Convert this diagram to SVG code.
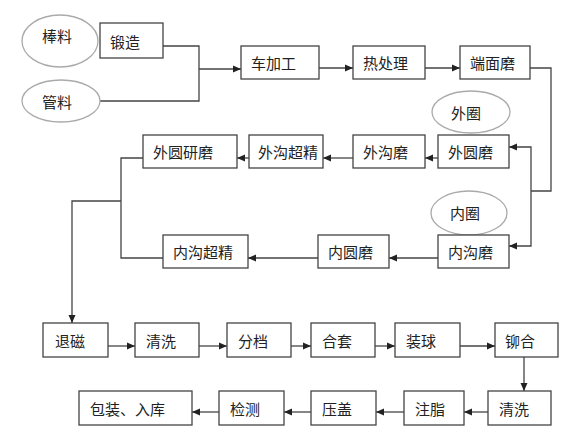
<svg xmlns="http://www.w3.org/2000/svg" width="573" height="437" viewBox="0 0 573 437">
<style>
.box{fill:#fff;stroke:#444;stroke-width:1.3}
.ell{fill:#fff;stroke:#aaa;stroke-width:1.3}
.t{font-family:"Noto Sans CJK SC","Noto Sans CJK JP",sans-serif;font-size:15px;fill:#222;dominant-baseline:central}
.tc{text-anchor:middle}
.ln{fill:none;stroke:#444;stroke-width:1.3}
</style>
<defs>
<marker id="ah" markerUnits="userSpaceOnUse" markerWidth="9" markerHeight="8" refX="8" refY="4" orient="auto">
<path d="M0,0.5 L8,4 L0,7.5 Z" fill="#222"/>
</marker>
</defs>
<rect width="573" height="437" fill="#fff"/>
<g id="connectors">
<polyline class="ln" points="163,46 199,46 199,101 100,101"/>
<line class="ln" x1="199" y1="69" x2="241" y2="69" marker-end="url(#ah)"/>
<line class="ln" x1="319" y1="68" x2="353" y2="68" marker-end="url(#ah)"/>
<line class="ln" x1="425" y1="68" x2="460" y2="68" marker-end="url(#ah)"/>
<polyline class="ln" points="530,68 551,68 551,191 531,191"/>
<polyline class="ln" points="531,191 531,147 509,147" marker-end="url(#ah)"/>
<polyline class="ln" points="531,191 531,246 509,246" marker-end="url(#ah)"/>
<line class="ln" x1="438" y1="158" x2="425" y2="158" marker-end="url(#ah)"/>
<line class="ln" x1="353" y1="158" x2="323" y2="158" marker-end="url(#ah)"/>
<line class="ln" x1="249" y1="158" x2="237" y2="158" marker-end="url(#ah)"/>
<line class="ln" x1="438" y1="258" x2="389" y2="258" marker-end="url(#ah)"/>
<line class="ln" x1="318" y1="258" x2="248" y2="258" marker-end="url(#ah)"/>
<polyline class="ln" points="143,158 121,158 121,258 163,258"/>
<polyline class="ln" points="121,201 72,201 72,323" marker-end="url(#ah)"/>
<line class="ln" x1="108" y1="346" x2="135" y2="346" marker-end="url(#ah)"/>
<line class="ln" x1="199" y1="346" x2="227" y2="346" marker-end="url(#ah)"/>
<line class="ln" x1="291" y1="346" x2="311" y2="346" marker-end="url(#ah)"/>
<line class="ln" x1="375" y1="346" x2="395" y2="346" marker-end="url(#ah)"/>
<line class="ln" x1="460" y1="346" x2="495" y2="346" marker-end="url(#ah)"/>
<line class="ln" x1="524" y1="357" x2="524" y2="391" marker-end="url(#ah)"/>
<line class="ln" x1="488" y1="412" x2="464" y2="412" marker-end="url(#ah)"/>
<line class="ln" x1="404" y1="412" x2="376" y2="412" marker-end="url(#ah)"/>
<line class="ln" x1="311" y1="412" x2="284" y2="412" marker-end="url(#ah)"/>
<line class="ln" x1="219" y1="412" x2="192" y2="412" marker-end="url(#ah)"/>
</g>
<g id="n-bangliao"><ellipse class="ell" cx="60" cy="41" rx="38" ry="26"/><text class="t tc" x="57" y="35">棒料</text></g>
<g id="n-guanliao"><ellipse class="ell" cx="61" cy="101" rx="39" ry="21"/><text class="t tc" x="57" y="101">管料</text></g>
<g id="n-waiquan"><ellipse class="ell" cx="471" cy="112" rx="39" ry="21"/><text class="t tc" x="466" y="112">外圈</text></g>
<g id="n-neiquan"><ellipse class="ell" cx="469" cy="213" rx="38" ry="22"/><text class="t tc" x="465" y="212">内圈</text></g>
<g id="n-duanzao"><rect class="box" x="100" y="23" width="63" height="35"/><text class="t" x="110" y="41">锻造</text></g>
<g id="n-chejiagong"><rect class="box" x="241" y="46" width="78" height="33"/><text class="t" x="251" y="62">车加工</text></g>
<g id="n-rechuli"><rect class="box" x="353" y="46" width="72" height="33"/><text class="t" x="363" y="62">热处理</text></g>
<g id="n-duanmianmo"><rect class="box" x="460" y="46" width="70" height="33"/><text class="t" x="470" y="62">端面磨</text></g>
<g id="n-waiyuanyanmo"><rect class="box" x="143" y="135" width="94" height="33"/><text class="t" x="153" y="151">外圆研磨</text></g>
<g id="n-waigouchaojing"><rect class="box" x="249" y="135" width="74" height="33"/><text class="t" x="258" y="151">外沟超精</text></g>
<g id="n-waigoumo"><rect class="box" x="353" y="135" width="72" height="33"/><text class="t" x="363" y="151">外沟磨</text></g>
<g id="n-waiyuanmo"><rect class="box" x="438" y="135" width="71" height="33"/><text class="t" x="448" y="151">外圆磨</text></g>
<g id="n-neigouchaojing"><rect class="box" x="163" y="235" width="85" height="33"/><text class="t" x="173" y="251">内沟超精</text></g>
<g id="n-neiyuanmo"><rect class="box" x="318" y="235" width="71" height="33"/><text class="t" x="328" y="251">内圆磨</text></g>
<g id="n-neigoumo"><rect class="box" x="438" y="235" width="71" height="33"/><text class="t" x="448" y="251">内沟磨</text></g>
<g id="n-tuici"><rect class="box" x="43" y="323" width="65" height="34"/><text class="t" x="55" y="340">退磁</text></g>
<g id="n-qingxi1"><rect class="box" x="135" y="323" width="64" height="34"/><text class="t" x="146" y="340">清洗</text></g>
<g id="n-fendang"><rect class="box" x="227" y="323" width="64" height="34"/><text class="t" x="238" y="340">分档</text></g>
<g id="n-hetao"><rect class="box" x="311" y="323" width="64" height="34"/><text class="t" x="322" y="340">合套</text></g>
<g id="n-zhuangqiu"><rect class="box" x="395" y="323" width="65" height="34"/><text class="t" x="406" y="340">装球</text></g>
<g id="n-maohe"><rect class="box" x="495" y="323" width="63" height="34"/><text class="t" x="505" y="340">铆合</text></g>
<g id="n-qingxi2"><rect class="box" x="488" y="391" width="63" height="34"/><text class="t" x="499" y="408">清洗</text></g>
<g id="n-zhuzhi"><rect class="box" x="404" y="391" width="60" height="34"/><text class="t" x="415" y="408">注脂</text></g>
<g id="n-yagai"><rect class="box" x="311" y="391" width="65" height="34"/><text class="t" x="322" y="408">压盖</text></g>
<g id="n-jiance"><rect class="box" x="219" y="391" width="65" height="34"/><text class="t" x="230" y="408">检测</text></g>
<g id="n-baozhuang"><rect class="box" x="79" y="391" width="113" height="34"/><text class="t" x="90" y="408">包装、入库</text></g>
</svg>
